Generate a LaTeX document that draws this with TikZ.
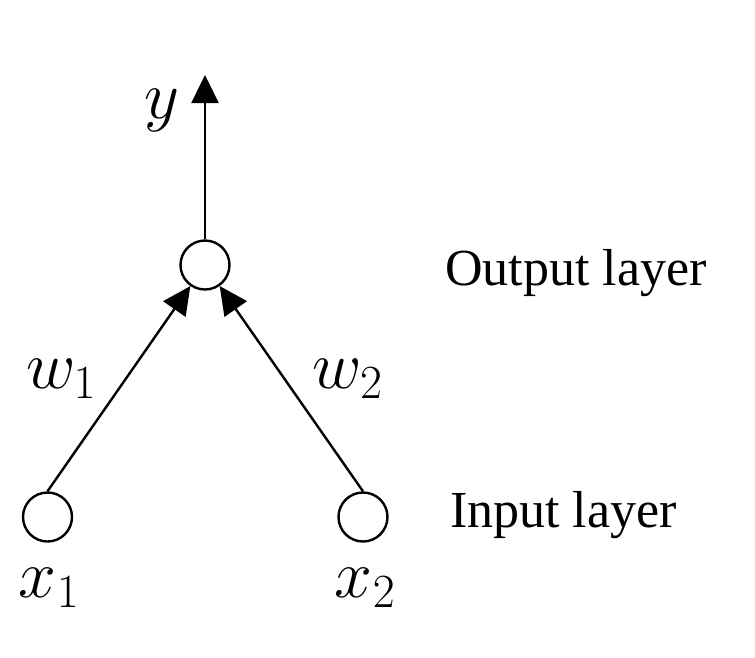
\documentclass[tikz,border=0pt]{standalone}
\usepackage{fix-cm}
\usepackage{fontspec}
\setmainfont{Liberation Serif}
\usetikzlibrary{arrows.meta,positioning}

\begin{document}
\begin{tikzpicture}[
    x=1pt, y=-1pt,
    neuron/.style={draw, circle, line width=2.4pt, minimum size=49pt, inner sep=0pt},
    link/.style={-{Triangle[length=28pt,width=27pt]}, line width=2.4pt},
    mathlbl/.style={inner sep=0pt, anchor=base, font=\fontsize{68}{80}\selectfont},
    layerlbl/.style={inner sep=0pt, anchor=base west, font=\fontsize{52}{60}\selectfont}
]
    \useasboundingbox (0,0) rectangle (755,657);

    % Neurons
    \node[neuron] (out) at (205,265) {};
    \node[neuron] (in1) at (47.5,517) {};
    \node[neuron] (in2) at (363,517) {};
    \coordinate (top) at (205,75);

    % Links
    \draw[link] (in1.north) -- (out);
    \draw[link] (in2.north) -- (out);
    \draw[link] (out.north) -- (top);

    % Labels
    \node[mathlbl] (ylbl) at (162,118) {$y$};
    \node[mathlbl] (w1) at (61,388) {$w_1$};
    \node[mathlbl] (w2) at (347.5,388) {$w_2$};
    \node[mathlbl] (x1) at (49,597) {$x_1$};
    \node[mathlbl] (x2) at (365,597) {$x_2$};
    \node[layerlbl] (outlbl) at (445,285) {Output layer};
    \node[layerlbl] (inlbl) at (450,527) {Input layer};
\end{tikzpicture}
\end{document}
